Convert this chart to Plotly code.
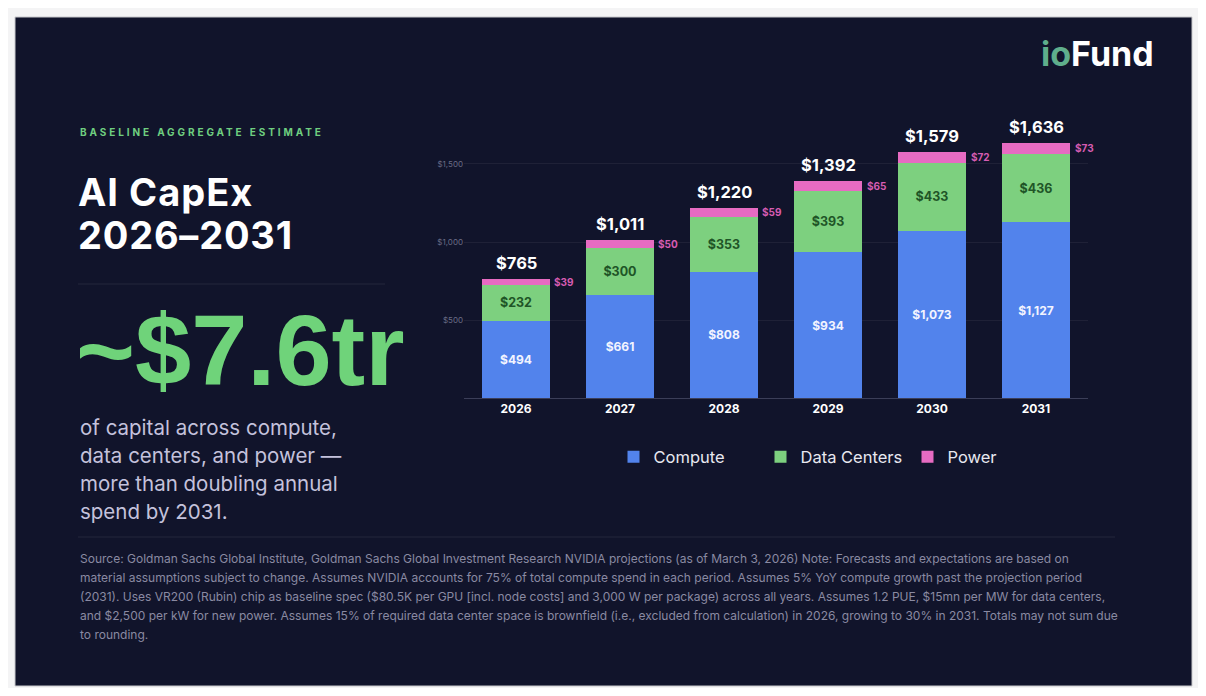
import plotly.graph_objects as go

years = ["2026", "2027", "2028", "2029", "2030", "2031"]
compute = [494, 661, 808, 934, 1073, 1127]
data_centers = [232, 300, 353, 393, 433, 436]
power = [39, 50, 59, 65, 72, 73]
totals = [765, 1011, 1220, 1392, 1579, 1636]
y_ticks = [500, 1000, 1500]

footnote = [
    "Source: Goldman Sachs Global Institute, Goldman Sachs Global Investment Research NVIDIA projections (as of March 3, 2026) Note: Forecasts and expectations are based on",
    "material assumptions subject to change. Assumes NVIDIA accounts for 75% of total compute spend in each period. Assumes 5% YoY compute growth past the projection period",
    "(2031). Uses VR200 (Rubin) chip as baseline spec ($80.5K per GPU [incl. node costs] and 3,000 W per package) across all years. Assumes 1.2 PUE, $15mn per MW for data centers,",
    "and $2,500 per kW for new power. Assumes 15% of required data center space is brownfield (i.e., excluded from calculation) in 2026, growing to 30% in 2031. Totals may not sum due",
    "to rounding.",
]
body = ["of capital across compute,", "data centers, and power \u2014",
        "more than doubling annual", "spend by 2031."]

# page has an 8px body margin, so the figure is drawn inside it
OFF = 8
W, H = 1190, 680
BG = "#11142b"
BLUE = "#5283ec"
GREEN = "#7dd07f"
PINK = "#e76bc2"
FONT = "Inter"


def px(x):
    return (x - OFF) / W


def py(y):
    return 1 - (y - OFF) / H


fig = go.Figure()
fig.add_trace(go.Bar(x=years, y=compute, name="Compute", marker_color=BLUE,
                     marker_line_width=0,
                     text=[f"<b>${v:,}</b>" for v in compute], textposition="inside",
                     insidetextanchor="middle",
                     textfont=dict(color="#f2f4ff", size=12, family=FONT)))
fig.add_trace(go.Bar(x=years, y=data_centers, name="Data Centers", marker_color=GREEN,
                     marker_line_width=0,
                     text=[f"<b>${v:,}</b>" for v in data_centers], textposition="inside",
                     insidetextanchor="middle",
                     textfont=dict(color="#1f5527", size=12.5, family=FONT)))
fig.add_trace(go.Bar(x=years, y=power, name="Power", marker_color=PINK,
                     marker_line_width=0, textposition="none"))

annotations = []
# category axis: annotations are placed by category index
for i, (c, d, p, t) in enumerate(zip(compute, data_centers, power, totals)):
    annotations.append(dict(x=i, y=t, xref="x", yref="y", text=f"<b>${t:,}</b>",
                            showarrow=False, yanchor="bottom", yshift=4,
                            font=dict(color="white", size=16.5, family=FONT)))
    annotations.append(dict(x=i, y=c + d + p / 2, xref="x", yref="y", text=f"<b>${p}</b>",
                            showarrow=False, xshift=48,
                            font=dict(color="#d65cb2", size=10, family=FONT)))

# left-hand text block
annotations.append(dict(x=px(78), y=py(132), xref="paper", yref="paper", xanchor="left",
                        yanchor="middle", showarrow=False,
                        text='<b><span style="letter-spacing:2.9px">BASELINE AGGREGATE ESTIMATE</span></b>',
                        font=dict(color="#6fcf80", size=10, family=FONT)))
annotations.append(dict(x=px(76), y=py(192), xref="paper", yref="paper", xanchor="left",
                        yanchor="middle", showarrow=False,
                        text='<b><span style="letter-spacing:1px">AI CapEx</span></b>',
                        font=dict(color="white", size=38, family=FONT)))
annotations.append(dict(x=px(76), y=py(235), xref="paper", yref="paper", xanchor="left",
                        yanchor="middle", showarrow=False,
                        text='<b><span style="letter-spacing:0.8px">2026\u20132031</span></b>',
                        font=dict(color="white", size=38, family=FONT)))
annotations.append(dict(x=px(74), y=py(350), xref="paper", yref="paper", xanchor="left",
                        yanchor="middle", showarrow=False, text="<b>~$7.6tr</b>",
                        font=dict(color="#6fd37a", size=101, family="Liberation Sans")))
for i, line in enumerate(body):
    annotations.append(dict(x=px(78), y=py(427 + 28 * i), xref="paper", yref="paper",
                            xanchor="left", yanchor="middle", showarrow=False, text=line,
                            font=dict(color="#c4c2dc", size=20.5, family=FONT)))
for i, line in enumerate(footnote):
    annotations.append(dict(x=px(78), y=py(558 + 19.2 * i), xref="paper", yref="paper",
                            xanchor="left", yanchor="middle", showarrow=False, text=line,
                            font=dict(color="#8a8aa2", size=12, family=FONT)))
# logo
annotations.append(dict(x=px(1156), y=py(54), xref="paper", yref="paper", xanchor="right",
                        yanchor="middle", showarrow=False,
                        text='<b><span style="color:#5fae8c">io</span>Fund</b>',
                        font=dict(color="white", size=34, family=FONT)))

shapes = [
    dict(type="rect", xref="paper", yref="paper", x0=px(15), x1=px(1192), y0=py(17), y1=py(686),
         fillcolor=BG, line=dict(color="#c8c8cc", width=1), layer="below"),
    dict(type="line", xref="paper", yref="paper", x0=px(78), x1=px(385), y0=py(284), y1=py(284),
         line=dict(color="rgba(255,255,255,0.08)", width=1)),
    dict(type="line", xref="paper", yref="paper", x0=px(78), x1=px(1115), y0=py(537), y1=py(537),
         line=dict(color="rgba(255,255,255,0.08)", width=1)),
]

fig.update_layout(
    width=W, height=H,
    margin=dict(l=0, r=0, t=0, b=0, autoexpand=False),
    paper_bgcolor="#f4f4f5",
    plot_bgcolor="rgba(0,0,0,0)",
    barmode="stack",
    bargap=0.346,
    font=dict(family=FONT),
    annotations=annotations,
    shapes=shapes,
    legend=dict(orientation="h", traceorder="normal", x=px(834), xanchor="center",
                y=py(457), yanchor="middle", entrywidth=102, entrywidthmode="pixels",
                font=dict(color="#e8e8f0", size=16.5, family=FONT), bgcolor="rgba(0,0,0,0)"),
)
fig.update_xaxes(type="category", categoryorder="array", categoryarray=years,
                 range=[-0.5, len(years) - 0.5],
                 domain=[px(464), px(1088)], showline=True,
                 linecolor="#3b3e58", linewidth=1, showgrid=False, ticks="",
                 tickfont=dict(color="white", size=12, family=FONT),
                 tickprefix="<b>", ticksuffix="</b>")
fig.update_yaxes(domain=[py(398), py(120)], range=[0, 1782], tickvals=y_ticks,
                 ticktext=[f"${v:,}" for v in y_ticks], showgrid=True,
                 gridcolor="rgba(255,255,255,0.06)", zeroline=False, showline=False,
                 tickfont=dict(color="#6a6c86", size=8, family=FONT), ticks="")

fig.write_html("out.html")
